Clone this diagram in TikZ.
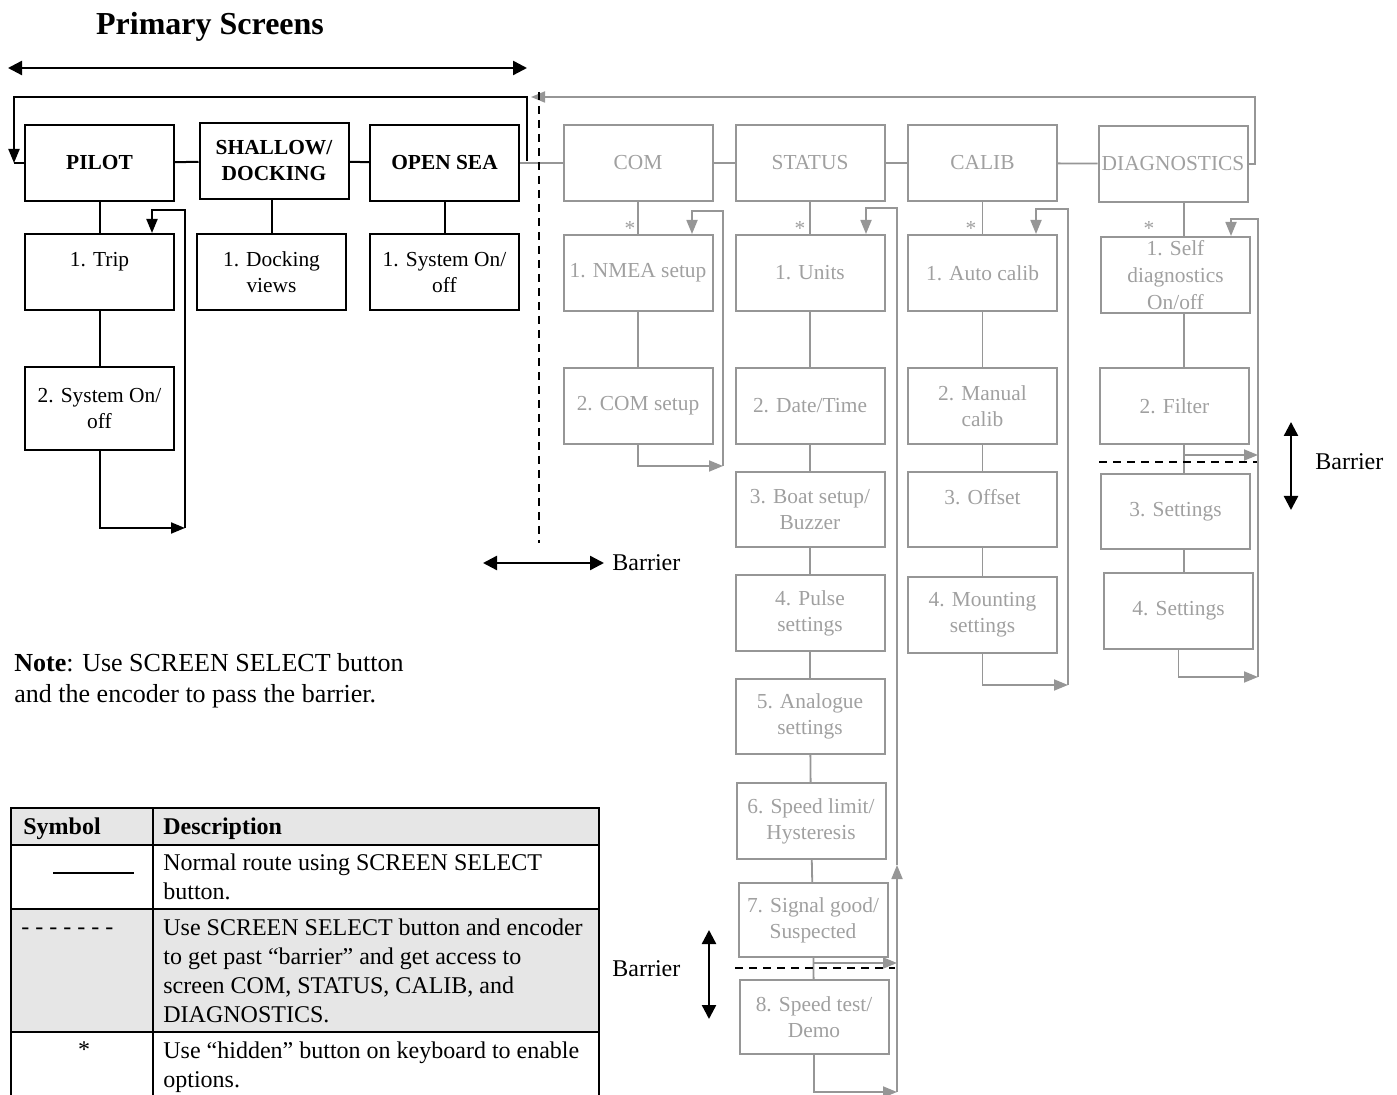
\documentclass[tikz,border=0pt]{standalone}
\usepackage{fontspec}
\setmainfont{Liberation Serif}
\usetikzlibrary{arrows.meta,positioning}

\definecolor{routegray}{RGB}{150,150,150}
\definecolor{labelgray}{RGB}{160,160,160}
\definecolor{rowgray}{RGB}{230,230,230}

\newcommand{\boxfont}{\fontsize{10.7}{13}\selectfont}
\newcommand{\tabfont}{\fontsize{12}{14.5}\selectfont}

\begin{document}
\begin{tikzpicture}[x=0.5pt,y=-0.5pt,
  >={Triangle[length=7pt,width=5.5pt]},
  screen/.style={draw,line width=1pt,minimum width=74.5pt,minimum height=38pt,inner sep=1pt,align=center,font=\boxfont},
  primscreen/.style={screen,font=\boxfont\bfseries},
  hidscreen/.style={screen,draw=routegray,text=labelgray},
  route/.style={draw=routegray,line width=0.9pt},
  normroute/.style={line width=1pt},
  barrierline/.style={line width=1pt,dash pattern=on 4pt off 3pt},
  bararrow/.style={line width=1.2pt,{Triangle[length=7pt,width=7pt]}-{Triangle[length=7pt,width=7pt]}},
  hint/.style={text=labelgray,font=\boxfont,inner sep=0pt},
  tabtext/.style={font=\tabfont,align=left,inner sep=0pt}
]
\useasboundingbox (0,0) rectangle (1397,1095);

% title and primary range
\node[font=\fontsize{16}{19}\selectfont\bfseries] (title) at (210,27) {Primary Screens};
\coordinate (pl) at (8,68);
\coordinate (pr) at (527,68);
\draw[bararrow] (pl) -- (pr);

% primary screens
\node[primscreen] (pilot) at (99.5,163) {PILOT};
\node[primscreen] (shallow) at (274,161) {SHALLOW/\\DOCKING};
\node[primscreen] (opensea) at (444.5,163) {OPEN SEA};
\node[screen] (trip) at (99.5,272) {1. Trip\\\mbox{}};
\node[screen,minimum height=41.5pt] (pilotsys) at (99.5,408.5) {2. System On/\\off};
\node[screen] (dockviews) at (271.5,272.5) {1. Docking\\views};
\node[screen] (seasys) at (444.5,272.5) {1. System On/\\off};

\draw[normroute] (pilot) -- (shallow);
\draw[normroute] (shallow) -- (opensea);
\draw[normroute] (pilot) -- (trip);
\draw[normroute] (trip) -- (pilotsys);
\draw[normroute] (shallow.south -| dockviews) -- (dockviews);
\draw[normroute] (opensea) -- (seasys);

% pilot loop
\coordinate (pa) at (185,528);
\coordinate (pb) at (185,210);
\coordinate (pc) at (152,210);
\draw[normroute,->] (pilotsys.south) |- (pa);
\draw[normroute,->] (pa) -- (pb) -- (pc) -- (pc |- trip.north);

% return to pilot
\coordinate (ka) at (527,161);
\coordinate (kb) at (527,97);
\coordinate (kc) at (14,97);
\coordinate (kd) at (14,163);
\draw[normroute,->] (ka) -- (kb) -- (kc) -- (kd);
\draw[normroute] (kd) -- (pilot.west);

% hidden screens
\node[hidscreen] (com) at (638,163) {COM};
\node[hidscreen] (status) at (810,163) {STATUS};
\node[hidscreen] (calib) at (982.5,163) {CALIB};
\node[hidscreen] (diag) at (1173,164) {DIAGNOSTICS};

\draw[route] (opensea) -- (com);
\draw[route] (com) -- (status);
\draw[route] (status) -- (calib);
\draw[route] (calib) -- (diag);

% COM
\node[hidscreen] (nmea) at (638,273) {1. NMEA setup};
\node[hidscreen] (comsetup) at (638,406) {2. COM setup};
\node[hint] (starcom) at (630,228) {*};
\draw[route] (com) -- (nmea);
\draw[route] (nmea) -- (comsetup);
\coordinate (ca) at (723,466);
\coordinate (cb) at (723,211);
\coordinate (cc) at (692,211);
\draw[route,->] (comsetup.south) |- (ca);
\draw[route,->] (ca) -- (cb) -- (cc) -- (cc |- nmea.north);

% STATUS
\node[hidscreen] (units) at (810,273) {1. Units};
\node[hidscreen] (datetime) at (810,406) {2. Date/Time};
\node[hidscreen,minimum height=37.5pt] (boat) at (810,509.5) {3. Boat setup/\\Buzzer};
\node[hidscreen] (pulse) at (810,613) {4. Pulse\\settings};
\node[hidscreen,minimum height=37.5pt] (analog) at (810,716.5) {5. Analogue\\settings};
\node[hidscreen] (speed) at (811,821) {6. Speed limit/\\Hysteresis};
\node[hidscreen,minimum height=37pt] (signal) at (813,920) {7. Signal good/\\Suspected};
\node[hidscreen,minimum height=37pt] (demo) at (814,1017) {8. Speed test/\\Demo};
\node[hint] (starstatus) at (800,228) {*};
\draw[route] (status) -- (units);
\draw[route] (units) -- (datetime);
\draw[route] (datetime) -- (boat);
\draw[route] (boat) -- (pulse);
\draw[route] (pulse) -- (analog);
\draw[route] (analog) -- (speed);
\draw[route] (speed) -- (signal);
\draw[route] (signal) -- (demo);
\coordinate (sa) at (897,1092);
\coordinate (sb) at (897,865);
\coordinate (sc) at (897,208);
\coordinate (sd) at (866,208);
\coordinate (sg) at (813,963);
\draw[route,->] (demo.south) |- (sa);
\draw[route,->] (sa) -- (sb);
\draw[route,->] (sb) -- (sc) -- (sd) -- (sd |- units.north);
\draw[route,->] (sg) -- (sg -| sa);

% CALIB
\node[hidscreen] (autocal) at (982.5,273) {1. Auto calib};
\node[hidscreen] (mancal) at (982.5,406) {2. Manual\\calib};
\node[hidscreen,minimum height=37.5pt] (offset) at (982.5,509.5) {3. Offset\\\mbox{}};
\node[hidscreen] (mount) at (982.5,615) {4. Mounting\\settings};
\node[hint] (starcalib) at (971,228) {*};
\draw[route] (calib) -- (autocal);
\draw[route] (autocal) -- (mancal);
\draw[route] (mancal) -- (offset);
\draw[route] (offset) -- (mount);
\coordinate (la) at (1068,685);
\coordinate (lb) at (1068,209);
\coordinate (lc) at (1036,209);
\draw[route,->] (mount.south) |- (la);
\draw[route,->] (la) -- (lb) -- (lc) -- (lc |- autocal.north);

% DIAGNOSTICS
\node[hidscreen,font=\fontsize{10.7}{13.5}\selectfont] (selfdiag) at (1175.5,275) {1. Self\\diagnostics\\On/off};
\node[hidscreen] (filter) at (1174.5,406) {2. Filter};
\node[hidscreen,minimum height=37.5pt] (setthree) at (1175.5,511.5) {3. Settings};
\node[hidscreen] (setfour) at (1178.5,611) {4. Settings};
\node[hint] (stardiag) at (1149,228) {*};
\draw[route] (diag.south -| 1184,0) -- (selfdiag.north -| 1184,0);
\draw[route] (filter.north -| 1184,0) -- (selfdiag.south -| 1184,0);
\draw[route] (filter.south -| 1184,0) -- (setthree.north -| 1184,0);
\draw[route] (setthree.south -| 1184,0) -- (setfour.north -| 1184,0);
\coordinate (da) at (1258,677);
\coordinate (db) at (1258,219);
\coordinate (dc) at (1231,219);
\coordinate (dg) at (1184,455);
\draw[route,->] (setfour.south) |- (da);
\draw[route,->] (da) -- (db) -- (dc) -- (dc |- selfdiag.north);
\draw[route,->] (dg) -- (dg -| da);

% return to COM
\coordinate (ga) at (1255,164);
\coordinate (gb) at (1255,97);
\coordinate (gc) at (531,97);
\draw[route,->] (diag.east) -- (ga) -- (gb) -- (gc);

% barriers
\coordinate (ba) at (539,92);
\coordinate (bb) at (539,543);
\draw[barrierline] (ba) -- (bb);
\coordinate (bc) at (483,563);
\coordinate (bh) at (604,563);
\draw[bararrow] (bc) -- (bh);
\node[anchor=west,font=\tabfont,inner sep=0pt] (barmain) at (612,563) {Barrier};

\draw[barrierline] (1099,462) -- (1257,462);
\coordinate (bd) at (1291,422);
\coordinate (be) at (1291,510);
\draw[bararrow] (bd) -- (be);
\node[anchor=west,font=\tabfont,inner sep=0pt] (bardiag) at (1315,462) {Barrier};

\draw[barrierline] (735,968) -- (895,968);
\coordinate (bf) at (709,930);
\coordinate (bg) at (709,1019);
\draw[bararrow] (bf) -- (bg);
\node[anchor=west,font=\tabfont,inner sep=0pt] (barstatus) at (612,969) {Barrier};

% note
\node[anchor=north west,align=left,inner sep=0pt,font=\fontsize{13}{15.5}\selectfont] (note) at (14,653)
  {\textbf{Note}: Use SCREEN SELECT button\\and the encoder to pass the barrier.};

% legend table
\fill[rowgray] (11,808) rectangle (599,845);
\fill[rowgray] (11,909) rectangle (599,1032);
\draw[line width=1pt] (11,1095) -- (11,808) -- (599,808) -- (599,1095);
\draw[line width=1pt] (153,808) -- (153,1095);
\foreach \y in {845,909,1032}
  \draw[line width=1pt] (11,\y) -- (599,\y);
\node[tabtext,anchor=base west] (symhead) at (23,834) {\textbf{Symbol}};
\node[tabtext,anchor=base west] (deschead) at (163,834) {\textbf{Description}};
\draw[line width=1.2pt] (53,873) -- (134,873);
\node[tabtext,anchor=north west] (descnormal) at (163,853) {Normal route using SCREEN SELECT\\button.};
\node[tabtext,anchor=base west] (symdash) at (21,934) {- - - - - - -};
\node[tabtext,anchor=north west] (descdash) at (163,918) {Use SCREEN SELECT button and encoder\\to get past “barrier” and get access to\\screen COM, STATUS, CALIB, and\\DIAGNOSTICS.};
\node[tabtext] (symstar) at (84,1050) {*};
\node[tabtext,anchor=north west] (descstar) at (163,1041) {Use “hidden” button on keyboard to enable\\options.};
\end{tikzpicture}
\end{document}
